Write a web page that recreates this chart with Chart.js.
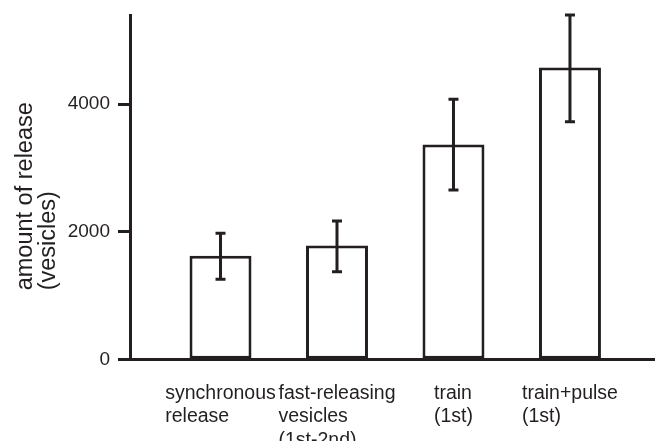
<!DOCTYPE html>
<html>
<head>
<meta charset="utf-8">
<script src="https://cdn.jsdelivr.net/npm/chart.js@4/dist/chart.umd.min.js"></script>
<style>
  html, body { margin: 0; padding: 0; background: #ffffff; }
  canvas { display: block; }
</style>
</head>
<body>
<canvas id="c" width="655" height="441"></canvas>
<script>
// ---- data ----
const categories = [
  ["synchronous", "release"],
  ["fast-releasing", "vesicles", "(1st-2nd)"],
  ["train", "(1st)"],
  ["train+pulse", "(1st)"]
];
const releaseValues = [1625, 1785, 3370, 4575];   // bar heights (vesicles)
const errorHigh = [1976, 2169, 4078, 5400];       // top of error bar
const errorLow  = [1255, 1374, 2656, 3727];       // bottom of error bar
const yTickValues = [0, 2000, 4000];
const yTitleLines = ["amount of release", "(vesicles)"];

const INK = '#231f20';
const FONT = '"Liberation Sans", Arial, sans-serif';

const errorBarPlugin = {
  id: 'errorBars',
  afterDatasetsDraw(chart) {
    const ctx = chart.ctx;
    const xs = chart.scales.x, ys = chart.scales.y;
    ctx.save();
    ctx.strokeStyle = INK;
    ctx.lineWidth = 3;
    ctx.lineCap = 'butt';
    releaseValues.forEach((v, i) => {
      const x = xs.getPixelForValue(i);
      const yt = ys.getPixelForValue(errorHigh[i]);
      const yb = ys.getPixelForValue(errorLow[i]);
      ctx.beginPath();
      ctx.moveTo(x, yt); ctx.lineTo(x, yb);
      ctx.moveTo(x - 5, yt); ctx.lineTo(x + 5, yt);
      ctx.moveTo(x - 5, yb); ctx.lineTo(x + 5, yb);
      ctx.stroke();
    });
    ctx.restore();
  }
};

const labelPlugin = {
  id: 'catLabels',
  afterDraw(chart) {
    const ctx = chart.ctx;
    const xs = chart.scales.x;
    const area = chart.chartArea;
    ctx.save();
    ctx.fillStyle = INK;
    ctx.font = '19.5px ' + FONT;
    ctx.textAlign = 'left';
    ctx.textBaseline = 'alphabetic';
    categories.forEach((lines, i) => {
      const cx = xs.getPixelForValue(i);
      const w = Math.max(...lines.map(l => ctx.measureText(l).width));
      const x0 = cx - w / 2;
      lines.forEach((l, j) => {
        ctx.fillText(l, x0, area.bottom + 39.5 + j * 23.5);
      });
    });
    // y axis title (rotated, lines start-aligned)
    ctx.font = '23.5px ' + FONT;
    yTitleLines.forEach((l, j) => {
      ctx.save();
      ctx.translate(32 + j * 23, area.bottom - 69);
      ctx.rotate(-Math.PI / 2);
      ctx.fillText(l, 0, 0);
      ctx.restore();
    });
    ctx.restore();
  }
};

new Chart(document.getElementById('c'), {
  type: 'bar',
  data: {
    datasets: [{
      data: releaseValues.map((v, i) => ({ x: i, y: v })),
      backgroundColor: '#ffffff',
      borderColor: INK,
      borderWidth: 3,
      borderSkipped: false,
      barPercentage: 0.532,
      categoryPercentage: 1
    }]
  },
  options: {
    responsive: false,
    animation: false,
    devicePixelRatio: 1,
    layout: { padding: { top: 15, right: 0, left: 0, bottom: 0 } },
    plugins: { legend: { display: false }, tooltip: { enabled: false } },
    scales: {
      x: {
        type: 'linear',
        offset: false,
        min: -0.777,
        max: 3.73,
        afterBuildTicks: (axis) => { axis.ticks = categories.map((c, i) => ({ value: i })); },
        afterFit: (s) => { s.height = 81.7; s.paddingLeft = 0; s.paddingRight = 0; },
        ticks: { display: false },
        grid: { display: false, offset: false },
        border: { display: true, color: INK, width: 3 }
      },
      y: {
        min: 0,
        max: 5400,
        afterBuildTicks: (axis) => { axis.ticks = yTickValues.map(v => ({ value: v })); },
        afterFit: (s) => { s.width = 130; s.paddingTop = 0; s.paddingBottom = 0; },
        ticks: {
          color: INK,
          padding: 8,
          font: { family: FONT, size: 19 },
          callback: (v) => String(v)
        },
        grid: {
          drawOnChartArea: false,
          drawTicks: true,
          tickLength: 12,
          tickWidth: 3,
          tickColor: INK
        },
        border: { display: true, color: INK, width: 3 }
      }
    }
  },
  plugins: [errorBarPlugin, labelPlugin]
});
</script>
</body>
</html>
